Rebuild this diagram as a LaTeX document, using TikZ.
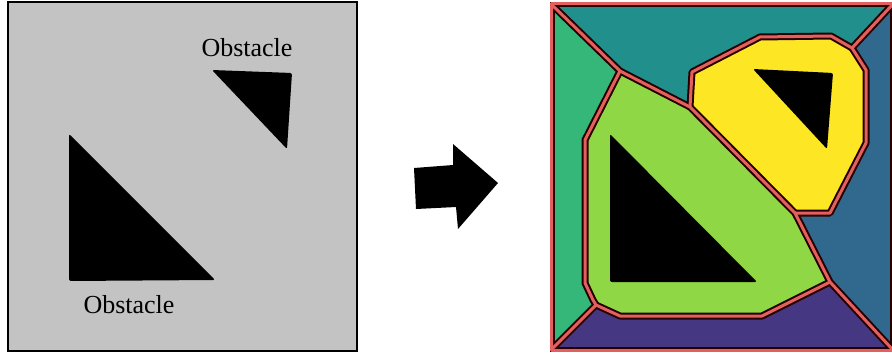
\documentclass[tikz,border=0pt]{standalone}
\usepackage{fontspec}
\setmainfont{Liberation Serif}
\definecolor{panelgray}{HTML}{C3C3C3}
\definecolor{cellteal}{HTML}{21908C}
\definecolor{cellgreen}{HTML}{35B779}
\definecolor{cellblue}{HTML}{31688E}
\definecolor{cellpurple}{HTML}{453781}
\definecolor{celllime}{HTML}{8FD744}
\definecolor{cellyellow}{HTML}{FDE725}
\definecolor{ridge}{HTML}{E3605E}
\tikzset{
  obstacle/.style={fill=black, rounded corners=2pt},
  ridgeout/.style={line width=7pt, black!85!red, line join=round},
  ridgein/.style={line width=3pt, ridge, line join=round},
  obslabel/.style={font=\fontsize{26}{30}\selectfont, inner sep=0pt}
}

\begin{document}
\begin{tikzpicture}[x=1pt,y=-1pt]
    \useasboundingbox (0,0) rectangle (892,353);

    % map with obstacles
    \fill[panelgray] (8,2) rectangle (357,351);
    \draw[line width=1.5pt] (8,2) rectangle (357,351);
    \fill[obstacle] (69,134) -- (69,281) -- (215,280) -- cycle;
    \fill[obstacle] (212,70) -- (292,73) -- (287,149) -- cycle;
    \node[obslabel] (obsTop) at (247,48) {Obstacle};
    \node[obslabel] (obsBottom) at (129,305) {Obstacle};

    % arrow
    \fill (414,168) -- (453,165) -- (453,144) -- (498,183) -- (458,229) -- (456,207) -- (416,209) -- cycle;

    % partitioned map
    \coordinate (A) at (620,71);
    \coordinate (B) at (596,305);
    \coordinate (C) at (830,282);
    \coordinate (D) at (852,48);
    \coordinate (E) at (690,107);
    \coordinate (F) at (795,213);

    \fill[cellteal] (551,4) -- (893,4) -- (D) -- (831,36) -- (760,37) -- (692,72) -- (E) -- (A) -- cycle;
    \fill[cellgreen] (551,4) -- (A) -- (585,140) -- (585,283) -- (593,300) -- (B) -- (551,350) -- cycle;
    \fill[cellblue] (893,4) -- (D) -- (866,70) -- (866,143) -- (830,213) -- (F) -- (C) -- (893,350) -- cycle;
    \fill[cellpurple] (551,350) -- (B) -- (620,316) -- (762,316) -- (C) -- (893,350) -- cycle;
    \fill[celllime] (A) -- (585,140) -- (585,283) -- (593,300) -- (B) -- (620,316) -- (762,316) -- (C) -- (F) -- (E) -- cycle;
    \fill[cellyellow] (E) -- (692,72) -- (760,37) -- (831,36) -- (D) -- (866,70) -- (866,143) -- (830,213) -- (F) -- cycle;

    \fill[obstacle] (610,134) -- (610,282) -- (757,282) -- cycle;
    \fill[obstacle] (753,69) -- (833,73) -- (827,149) -- cycle;

    \begin{scope}
      \clip (550,3) rectangle (892,351);
      \foreach \st in {ridgeout, ridgein} {
        \draw[\st] (551,4) rectangle (893,350);
        \draw[\st] (551,4) -- (A) -- (E) -- (F) -- (C) -- (893,350);
        \draw[\st] (A) -- (585,140) -- (585,283) -- (593,300) -- (B) -- (551,350);
        \draw[\st] (B) -- (620,316) -- (762,316) -- (C);
        \draw[\st] (E) -- (692,72) -- (760,37) -- (831,36) -- (D) -- (893,4);
        \draw[\st] (D) -- (866,70) -- (866,143) -- (830,213) -- (F);
      }
    \end{scope}
\end{tikzpicture}
\end{document}
